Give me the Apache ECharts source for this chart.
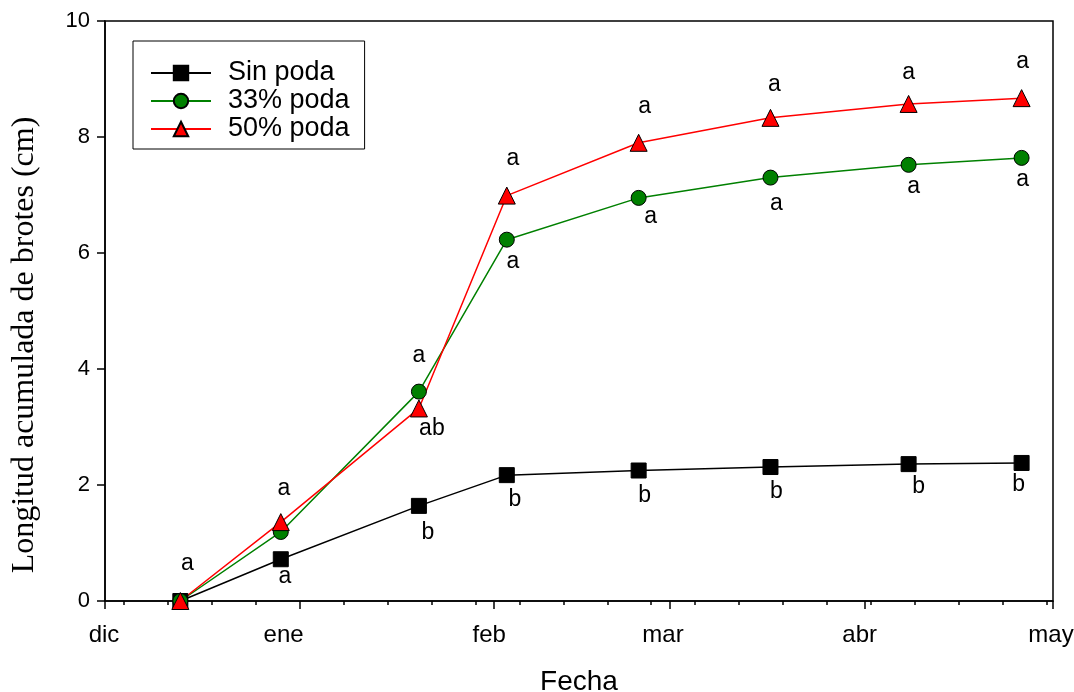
<!DOCTYPE html>
<html><head><meta charset="utf-8">
<script src="https://cdn.jsdelivr.net/npm/echarts@6/dist/echarts.min.js"></script>
<style>html,body{margin:0;padding:0;background:#fff}#c{width:1074px;height:692px}</style>
</head><body><div id="c"></div>
<script>
// ---- data ----
const sampleDates = ['2000-12-13','2000-12-29','2001-01-20','2001-02-03','2001-02-24','2001-03-17','2001-04-08','2001-04-26'];
const sinPoda = [0, 0.72, 1.64, 2.17, 2.25, 2.31, 2.36, 2.38];
const poda33  = [0, 1.19, 3.61, 6.23, 6.95, 7.30, 7.52, 7.64];
const poda50  = [0, 1.36, 3.32, 6.99, 7.90, 8.33, 8.57, 8.67];
const sinLetters = ['', 'a', 'b', 'b', 'b', 'b', 'b', 'b'];
const p33Letters = ['', '', 'a', 'a', 'a', 'a', 'a', 'a'];
const p50Letters = ['a', 'a', 'ab', 'a', 'a', 'a', 'a', 'a'];
const monthDates = ['2000-12-01','2001-01-01','2001-02-01','2001-03-01','2001-04-01','2001-05-01'];
const monthLabels = ['dic','ene','feb','mar','abr','may'];
const seriesNames = ['Sin poda','33% poda','50% poda'];
const yTitle = 'Longitud acumulada de brotes (cm)';
const xTitle = 'Fecha';

// ---- layout (label offsets, px) ----
const sinOffsets = [[0,0],[4,17],[9,27],[8,25],[6,25],[6,25],[10,23],[-3,22]];
const p33Offsets = [[0,0],[0,0],[0,-36],[6,22],[12,19],[6,26],[5,22],[1,22]];
const p50Offsets = [[7,-37],[3,-33],[13,20],[6,-37],[6,-36],[4,-33],[0,-31],[1,-36]];
const monthLabelShift = [1, 16, 5, 7, 5, 2]; // px the printed month label sits left of its tick

function dayOf(s){ const p = s.split('-').map(Number); return (Date.UTC(p[0],p[1]-1,p[2]) - Date.UTC(2000,11,1)) / 86400000; }
const xDays = sampleDates.map(dayOf);
const monthDays = monthDates.map(dayOf);
const xMax = monthDays[monthDays.length-1];
const weekTicks = []; for (let d = 3; d <= xMax; d += 7) weekTicks.push(d);

const FONT = '"Liberation Sans", Arial, sans-serif';
function build(vals, letters, offs){
  return vals.map((v,i) => ({
    value: [xDays[i], v],
    label: { show: !!letters[i], formatter: letters[i], position: 'inside', offset: offs[i],
             color: '#000', fontSize: 23, fontFamily: FONT }
  }));
}
const monthRich = {};
monthLabelShift.forEach((s,i) => { monthRich['m'+i] = { fontSize: 24, fontFamily: FONT, color: '#000', padding: [0, 2*s, 0, 0] }; });

const chart = echarts.init(document.getElementById('c'), null, {renderer:'canvas'});
chart.setOption({
  animation: false,
  backgroundColor: '#fff',
  grid: { left: 105, right: 21, top: 21, bottom: 91, show: true, borderColor: '#000', borderWidth: 1.5,
          backgroundColor: 'transparent', containLabel: false, outerBoundsMode: 'none' },
  legend: {
    orient: 'vertical', left: 133, top: 41,
    itemWidth: 60, itemHeight: 18, itemGap: 0,
    borderColor: '#000', borderWidth: 1, padding: [18, 15, 6, 17],
    textStyle: { fontSize: 27, fontFamily: FONT, color: '#000', lineHeight: 28, padding: [0,0,0,12] },
    data: seriesNames
  },
  xAxis: [{
    type: 'value', min: 0, max: xMax, position: 'bottom',
    axisLine: { show: true, lineStyle: { color: '#000', width: 1.5 } },
    axisTick: { show: true, length: 8, lineStyle: { color: '#000', width: 1.5 }, customValues: monthDays },
    axisLabel: { customValues: monthDays, margin: 22, fontSize: 24, fontFamily: FONT, color: '#000',
                 rich: monthRich,
                 formatter: v => { const i = monthDays.indexOf(v); return i < 0 ? '' : '{m' + i + '|' + monthLabels[i] + '}'; } },
    splitLine: { show: false },
    name: xTitle, nameLocation: 'middle', nameGap: 67,
    nameTextStyle: { fontSize: 28, fontFamily: FONT, color: '#000' }
  },{
    type: 'value', min: 0, max: xMax, position: 'bottom', gridIndex: 0,
    axisLine: { show: false },
    axisTick: { show: true, length: 4, lineStyle: { color: '#000', width: 1.5 }, customValues: weekTicks },
    axisLabel: { show: false },
    splitLine: { show: false }
  }],
  yAxis: {
    type: 'value', min: 0, max: 10, interval: 2,
    axisLine: { show: true, lineStyle: { color: '#000', width: 1.5 } },
    axisTick: { show: true, length: 8, lineStyle: { color: '#000', width: 1.5 } },
    axisLabel: { margin: 15, fontSize: 22, fontFamily: FONT, color: '#000' },
    splitLine: { show: false }
  },
  graphic: [{
    type: 'text', x: 25, y: 345, rotation: Math.PI/2,
    style: { text: yTitle, fontSize: 32, fontFamily: '"Liberation Serif", "Times New Roman", serif', fill: '#000',
             textAlign: 'center', textVerticalAlign: 'middle' }
  }],
  series: [
    { name: seriesNames[0], type: 'line', data: build(sinPoda, sinLetters, sinOffsets),
      symbol: 'rect', symbolSize: 15, lineStyle: { color: '#000', width: 1.5 },
      itemStyle: { color: '#000', borderColor: '#000', borderWidth: 1 } },
    { name: seriesNames[1], type: 'line', data: build(poda33, p33Letters, p33Offsets),
      symbol: 'circle', symbolSize: 15, lineStyle: { color: '#008000', width: 1.5 },
      itemStyle: { color: '#008000', borderColor: '#000', borderWidth: 1 } },
    { name: seriesNames[2], type: 'line', data: build(poda50, p50Letters, p50Offsets),
      symbol: 'triangle', symbolSize: 17, lineStyle: { color: '#ff0000', width: 1.5 },
      itemStyle: { color: '#ff0000', borderColor: '#000', borderWidth: 1 } }
  ]
});
</script></body></html>
